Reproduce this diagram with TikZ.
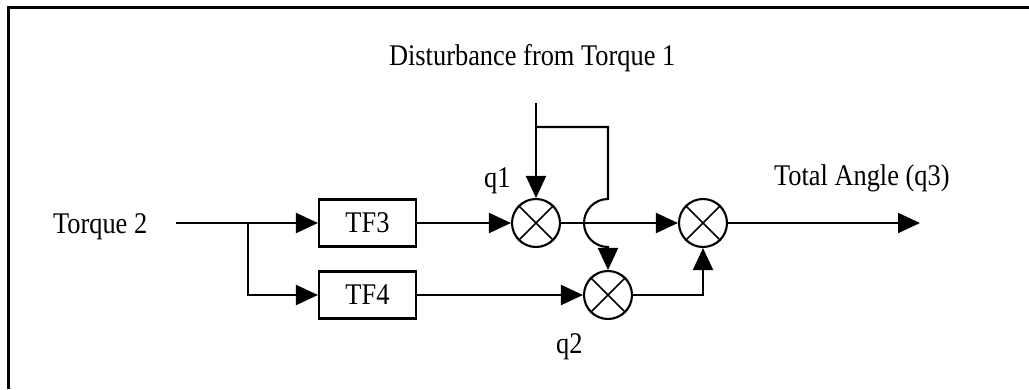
\documentclass[tikz,border=0pt]{standalone}
\usepackage{fontspec}
\setmainfont{Liberation Serif}
\usetikzlibrary{arrows.meta}
\newcommand\hsq[1]{\scalebox{0.88}[1]{#1}}
\begin{document}
\begin{tikzpicture}[x=1pt,y=-1pt, line width=2.1pt,
  conn/.style={-{Triangle[length=22pt,width=20pt]}},
  tfbox/.style={draw, minimum width=97pt, minimum height=47pt, inner sep=0pt, font=\fontsize{30}{30}\selectfont},
  sumnode/.style={draw, circle, minimum size=48pt, inner sep=0pt},
  lbl/.style={font=\fontsize{30}{30}\selectfont, inner sep=0pt, anchor=base west}]
\useasboundingbox (0,0) rectangle (1029,389);
\draw[line width=3pt] (8,389) -- (8,7) -- (1029,7);

% labels
\node[lbl] (torque) at (52,233) {\hsq{Torque 2}};
\node[lbl] (dist) at (388,65) {\hsq{Disturbance from Torque 1}};
\node[lbl] (q1) at (483,187) {\hsq{q1}};
\node[lbl] (q2) at (555,353) {\hsq{q2}};
\node[lbl] (q3) at (773,185) {\hsq{Total Angle (q3)}};

% blocks
\node[tfbox] (tf3) at (367.5,223) {\hsq{TF3}};
\node[tfbox] (tf4) at (367.5,295) {\hsq{TF4}};
\node[sumnode] (s1) at (536,223) {};
\node[sumnode] (s2) at (608,295) {};
\node[sumnode] (s3) at (703,223) {};
\foreach \s in {s1,s2,s3}
  \draw[line width=1.6pt] (\s.45) -- (\s.225) (\s.135) -- (\s.315);

% coordinates
\coordinate (start) at (176,223);
\coordinate (split) at (248,223);
\coordinate (dtop) at (536,103);
\coordinate (dbr) at (536,127);
\coordinate (jtop) at (608,199);
\coordinate (out) at (920,223);

% connectors
\draw (start) -- (split);
\draw[conn] (split) -- (tf3);
\draw[conn] (split) |- (tf4.west);
\draw[conn] (tf3) -- (s1);
\draw[conn] (tf4) -- (s2);
\draw[conn] (dtop) -- (s1);
\draw[conn] (dbr) -| (jtop) arc[start angle=90, end angle=270, radius=24pt] -- (s2);
\draw[conn] (s1) -- (s3);
\draw[conn] (s2) -| (s3);
\draw[conn] (s3) -- (out);
\end{tikzpicture}
\end{document}
